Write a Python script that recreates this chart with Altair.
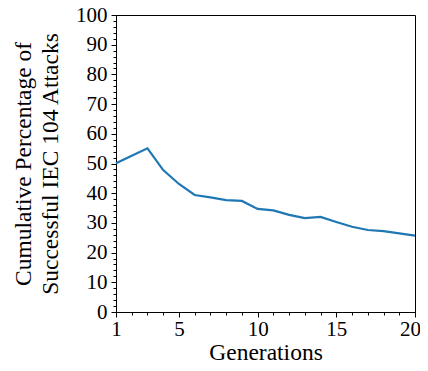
import altair as alt
import pandas as pd

generations = list(range(1, 21))
percent = [50.1, 52.6, 55.1, 47.8, 43.1, 39.4, 38.6, 37.7, 37.4, 34.7,
           34.2, 32.7, 31.6, 32.0, 30.3, 28.7, 27.6, 27.2, 26.5, 25.7]

x_ticks = list(range(1, 21))
y_ticks = list(range(0, 101, 2))

df = pd.DataFrame({"gen": generations, "pct": percent})

font = "Liberation Serif, Times New Roman, serif"
common = dict(grid=False, labelOverlap=False, labelFont=font, titleFont=font,
              labelFontSize=21, titleFontSize=23.5, titleFontWeight="normal",
              labelColor="black", titleColor="black", tickColor="black",
              domainColor="black", tickWidth=1, domainWidth=1, labelFlush=False)

chart = alt.Chart(df).mark_line(color="#1f77b4", strokeWidth=2.2).encode(
    x=alt.X("gen:Q", scale=alt.Scale(domain=[1, 20], nice=False, zero=False),
            axis=alt.Axis(title="Generations", values=x_ticks,
                          labelExpr="(datum.value == 1 || datum.value % 5 == 0) ? datum.label : ''",
                          tickSize={"condition": {"test": "datum.value == 1 || datum.value % 5 == 0", "value": 5}, "value": 3},
                          labelOffset={"condition": {"test": "datum.value == 20", "value": -5}, "value": 0},
                          labelPadding=1, titlePadding=1, **common)),
    y=alt.Y("pct:Q", scale=alt.Scale(domain=[0, 100], nice=False),
            axis=alt.Axis(title=["Cumulative Percentage of", "Successful IEC 104 Attacks"],
                          values=y_ticks,
                          labelExpr="datum.value % 10 == 0 ? datum.label : ''",
                          tickSize={"condition": {"test": "datum.value % 10 == 0", "value": 5}, "value": 3},
                          labelPadding=4, titlePadding=13, titleLineHeight=27, **common)),
).properties(
    width=299, height=297,
    autosize=alt.AutoSizeParams(type="none"),
    padding={"left": 108, "top": 7, "right": 5, "bottom": 51},
).configure(
    font=font
).configure_view(
    stroke="black", strokeWidth=1
)

chart.save("out.html", embed_options={"renderer": "svg", "actions": False})
